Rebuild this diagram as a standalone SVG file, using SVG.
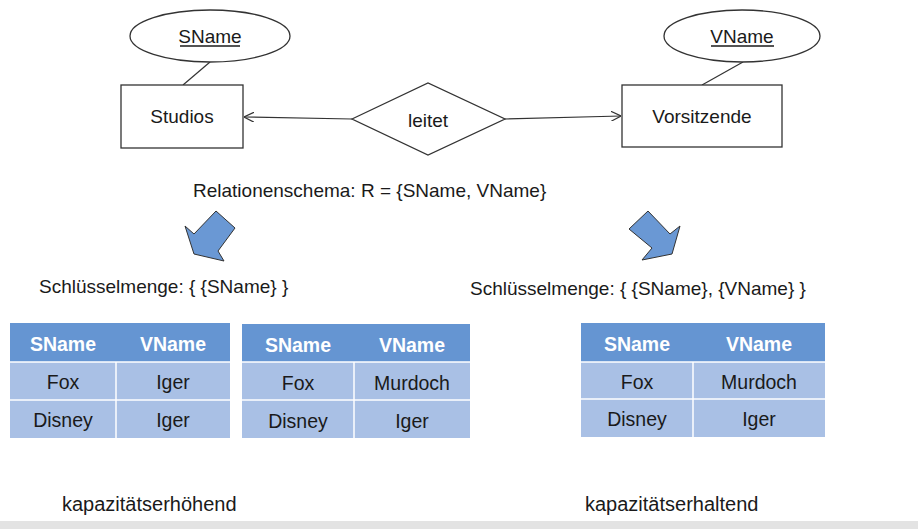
<svg xmlns="http://www.w3.org/2000/svg" width="918" height="529" viewBox="0 0 918 529">
<defs>
<style>
text{font-family:"Liberation Sans",Arial,sans-serif;font-size:19px;fill:#1a1a1a}
.c{text-anchor:middle}
.tb{font-size:19.5px}
.lbl{font-size:20px}
.shape{fill:#fff;stroke:#333;stroke-width:1.3}
.conn{stroke:#333;stroke-width:1.2;fill:none}
.hdr{fill:#6595d2}
.row{fill:#a9c0e5}
.grid{stroke:#fff;stroke-width:1.5;fill:none}
.ht{fill:#fff;font-weight:bold;text-anchor:middle}
.bigarrow{fill:#6a98d4;stroke:#333;stroke-width:1}
</style>
<marker id="open" viewBox="0 0 10 10" refX="10" refY="5" markerWidth="10" markerHeight="10" markerUnits="userSpaceOnUse" orient="auto">
<path d="M0,0 L10,5 L0,10" fill="none" stroke="#333" stroke-width="1.2"/>
</marker>
</defs>
<rect width="918" height="529" fill="#fff"/>
<rect x="0" y="521" width="918" height="8" fill="#e3e3e3"/>

<g id="connectors">
<line class="conn" x1="210" y1="62" x2="183" y2="85"/>
<line class="conn" x1="743" y1="62" x2="702" y2="85"/>
<line class="conn" x1="352" y1="119" x2="244" y2="117" marker-end="url(#open)"/>
<line class="conn" x1="505" y1="119" x2="621" y2="116" marker-end="url(#open)"/>
</g>

<g id="attr-sname">
<ellipse class="shape" cx="210" cy="36" rx="80" ry="26"/>
<text class="c" x="210" y="43">SName</text>
<line x1="180" y1="46" x2="240" y2="46" stroke="#1a1a1a" stroke-width="1.3"/>
</g>
<g id="attr-vname">
<ellipse class="shape" cx="742" cy="36" rx="78" ry="26"/>
<text class="c" x="742" y="43">VName</text>
<line x1="711" y1="46" x2="774" y2="46" stroke="#1a1a1a" stroke-width="1.3"/>
</g>
<g id="studios">
<rect class="shape" x="121" y="85" width="122" height="63"/>
<text class="c" x="182" y="123">Studios</text>
</g>
<g id="leitet">
<polygon class="shape" points="352,119 428,83 505,119 428,155"/>
<text class="c" x="428" y="127">leitet</text>
</g>
<g id="vorsitzende">
<rect class="shape" x="622" y="85" width="160" height="62"/>
<text class="c" x="702" y="123">Vorsitzende</text>
</g>

<g id="schema">
<text x="193" y="197">Relationenschema: R = {SName, VName}</text>
</g>

<g id="arrow-left">
<polygon class="bigarrow" points="216,211 235,228 218,251 224,261 194,254 185,226 194,234"/>
</g>
<g id="arrow-right">
<polygon class="bigarrow" points="629,229 648,211 670,234 680,226 672,254 642,260 652,248"/>
</g>

<g id="key-left">
<text x="39" y="293">Schlüsselmenge: { {SName} }</text>
</g>
<g id="key-right">
<text x="470" y="295">Schlüsselmenge: { {SName}, {VName} }</text>
</g>

<g id="table1">
<rect class="hdr" x="10" y="323" width="220" height="39"/>
<rect class="row" x="10" y="362" width="220" height="76"/>
<line class="grid" x1="10" y1="362" x2="230" y2="362"/>
<line class="grid" x1="10" y1="400" x2="230" y2="400"/>
<line class="grid" x1="116" y1="362" x2="116" y2="438"/>
<text class="ht tb" x="63" y="351">SName</text>
<text class="ht tb" x="173" y="351">VName</text>
<text class="c tb" x="63" y="389">Fox</text>
<text class="c tb" x="173" y="389">Iger</text>
<text class="c tb" x="63" y="427">Disney</text>
<text class="c tb" x="173" y="427">Iger</text>
</g>

<g id="table2">
<rect class="hdr" x="242" y="324" width="228" height="38"/>
<rect class="row" x="242" y="362" width="228" height="76"/>
<line class="grid" x1="242" y1="362" x2="470" y2="362"/>
<line class="grid" x1="242" y1="400" x2="470" y2="400"/>
<line class="grid" x1="354" y1="362" x2="354" y2="438"/>
<text class="ht tb" x="298" y="352">SName</text>
<text class="ht tb" x="412" y="352">VName</text>
<text class="c tb" x="298" y="390">Fox</text>
<text class="c tb" x="412" y="390">Murdoch</text>
<text class="c tb" x="298" y="428">Disney</text>
<text class="c tb" x="412" y="428">Iger</text>
</g>

<g id="table3">
<rect class="hdr" x="581" y="323" width="244" height="39"/>
<rect class="row" x="581" y="362" width="244" height="75"/>
<line class="grid" x1="581" y1="362" x2="825" y2="362"/>
<line class="grid" x1="581" y1="399" x2="825" y2="399"/>
<line class="grid" x1="693" y1="362" x2="693" y2="437"/>
<text class="ht tb" x="637" y="351">SName</text>
<text class="ht tb" x="759" y="351">VName</text>
<text class="c tb" x="637" y="389">Fox</text>
<text class="c tb" x="759" y="389">Murdoch</text>
<text class="c tb" x="637" y="426">Disney</text>
<text class="c tb" x="759" y="426">Iger</text>
</g>

<g id="label-left">
<text class="lbl" x="62" y="511">kapazitätserhöhend</text>
</g>
<g id="label-right">
<text class="lbl" x="585" y="511">kapazitätserhaltend</text>
</g>
</svg>
